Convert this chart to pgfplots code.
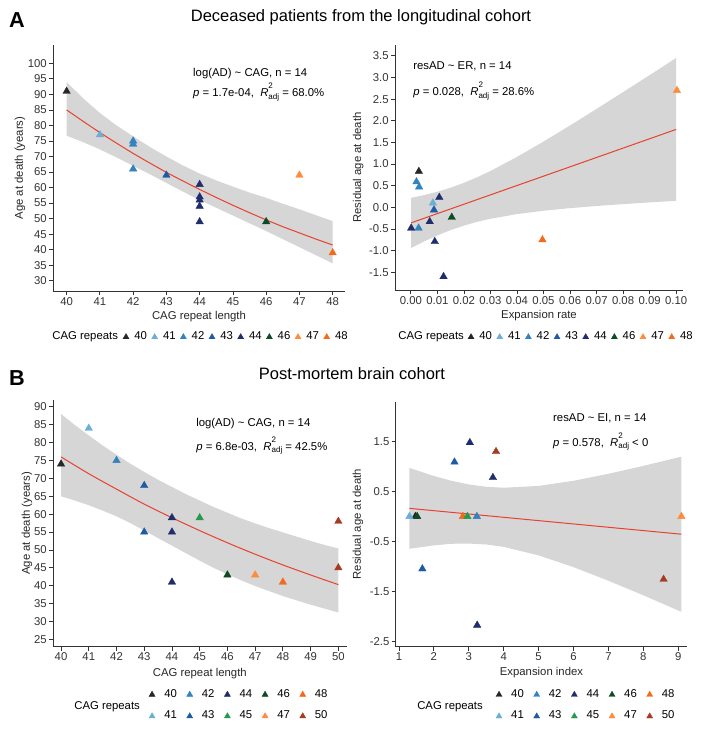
\documentclass[border=0pt]{standalone}
\usepackage{fontspec}
\setmainfont{Liberation Sans}
\usepackage{pgfplots}
\pgfplotsset{compat=1.18}

\definecolor{c40}{HTML}{262626}
\definecolor{c41}{HTML}{6BAED6}
\definecolor{c42}{HTML}{3182BD}
\definecolor{c43}{HTML}{1D5BA6}
\definecolor{c44}{HTML}{1F2D6E}
\definecolor{c45}{HTML}{259A4A}
\definecolor{c46}{HTML}{0D4A25}
\definecolor{c47}{HTML}{FD8D3C}
\definecolor{c48}{HTML}{F26A1B}
\definecolor{c50}{HTML}{A63A23}
\definecolor{bandgray}{RGB}{214,214,214}
\definecolor{fitred}{HTML}{E8412E}
\definecolor{axgray}{HTML}{333333}

\newcommand{\sm}{\fontsize{6.8}{8}\selectfont}
% R^2_adj : superscript stacked over subscript
\newcommand{\radj}{\textit{R}\raisebox{-1.7pt}{\fontsize{4.8}{4.8}\selectfont\shortstack[l]{2\\adj}}}

\pgfplotsset{
  panel/.style={
    scale only axis, clip=false,
    axis lines*=left,
    axis line style={axgray, line width=0.5pt, -},
    tick align=outside,
    major tick length=2.4pt,
    tick style={axgray, line width=0.5pt},
    tick label style={font=\sm, text=axgray, inner sep=1.2pt},
    label style={font=\sm, text=black!85},
    /pgf/number format/assume math mode=true,
    legend style={draw=none, fill=none, inner sep=0pt, outer sep=0pt, font=\sm,
      nodes={inner xsep=1pt, inner ysep=0.6pt}},
    legend image code/.code={\draw[##1, mark size=2.1pt] plot coordinates {(0pt,0pt)};},
  },
  pts/.style={only marks, mark=triangle*, mark size=2.6pt, color=#1,
    mark options={solid, fill=#1, draw=#1, line width=0.2pt}},
  fitline/.style={fitred, line width=0.6pt},
  band/.style={fill=bandgray, draw=none, forget plot},
  legA/.style={legend columns=-1, legend style={
    /tikz/every odd column/.append style={column sep=2.2pt},
    /tikz/every even column/.append style={column sep=1.8pt}}},
  legB/.style={legend columns=5, legend style={row sep=5.5pt,
    /tikz/every odd column/.append style={column sep=4.5pt},
    /tikz/every even column/.append style={column sep=4.9pt}}},
}

\begin{document}
\begin{tikzpicture}
\path[use as bounding box] (0pt,0pt) rectangle (422.4pt,-439.8pt);

\node[font=\fontsize{13}{15}\selectfont\bfseries] at (10.2pt,-12pt) {A};
\node[font=\fontsize{9.9}{12}\selectfont] at (216.6pt,-10.2pt) {Deceased patients from the longitudinal cohort};
\node[font=\fontsize{13}{15}\selectfont\bfseries] at (10.2pt,-226.8pt) {B};
\node[font=\fontsize{9.9}{12}\selectfont] at (211.2pt,-224.4pt) {Post-mortem brain cohort};

% ---------- A left ----------
\begin{axis}[panel, legA, at={(31.8pt,-174.6pt)}, anchor=south west,
  width=175.2pt, height=147.6pt,
  xmin=39.59, xmax=48.37, ymin=26.7, ymax=105.9,
  xtick={40,...,48}, ytick={30,35,...,100},
  xlabel={CAG repeat length}, ylabel={Age at death (years)},
  xlabel style={at={(axis description cs:0.5,-0.114)}, anchor=base},
  ylabel style={at={(axis description cs:-0.113,0.5)}, anchor=center},
  legend style={at={(axis description cs:0.2397,-0.187)}, anchor=west}]
\addplot[band] coordinates {
  (40,94.0) (40.5,88.7) (41,84.0) (41.5,80.0) (42,76.5) (42.5,73.1) (43,70.0) (43.5,67.1) (44,64.5)
  (44.5,62.3) (45,60.3) (45.5,58.4) (46,56.7) (46.5,54.8) (47,53.0) (47.5,51.1) (48,49.2)
  (48,35.6) (47.5,38.2) (47,40.8) (46.5,43.4) (46,46.0) (45.5,48.5) (45,51.0) (44.5,53.5) (44,56.0)
  (43.5,58.7) (43,61.5) (42.5,64.3) (42,67.0) (41.5,69.7) (41,72.3) (40.5,74.6) (40,76.7)} -- cycle;
\addplot[fitline, forget plot] coordinates {(40,85.0) (40.5,81.3) (41,77.7) (41.5,74.3) (42,71.0) (42.5,67.9) (43,64.9) (43.5,62.1) (44,59.4) (44.5,56.8) (45,54.3) (45.5,51.9) (46,49.6) (46.5,47.4) (47,45.4) (47.5,43.4) (48,41.5)};
\addplot[pts=c40] coordinates {(40,91)}; \addlegendentry{40}
\addplot[pts=c41] coordinates {(41,77)}; \addlegendentry{41}
\addplot[pts=c42] coordinates {(42,75) (42,74) (42,66)}; \addlegendentry{42}
\addplot[pts=c43] coordinates {(43,64)}; \addlegendentry{43}
\addplot[pts=c44] coordinates {(44,61) (44,57) (44,56) (44,54) (44,49)}; \addlegendentry{44}
\addplot[pts=c46] coordinates {(46,49)}; \addlegendentry{46}
\addplot[pts=c47] coordinates {(47,64)}; \addlegendentry{47}
\addplot[pts=c48] coordinates {(48,39)}; \addlegendentry{48}
\node[anchor=base west, font=\sm, inner sep=0pt] at (axis description cs:0.479,0.870) {log(AD) \textasciitilde{} CAG, n = 14};
\node[anchor=base west, font=\sm, inner sep=0pt] at (axis description cs:0.479,0.789) {\textit{p} = 1.7e-04,\ \ \radj{} = 68.0\%};
\node[anchor=west, font=\sm, inner sep=0pt] at (axis description cs:-0.003,-0.187) {CAG repeats};
\end{axis}

% ---------- A right ----------
\begin{axis}[panel, legA, at={(237pt,-174pt)}, anchor=south west,
  width=172.8pt, height=147pt,
  xmin=-0.006, xmax=0.1026, ymin=-1.91, ymax=3.75,
  xtick={0,0.01,0.02,0.03,0.04,0.05,0.06,0.07,0.08,0.09,0.1},
  ytick={-1.5,-1,-0.5,0,0.5,1,1.5,2,2.5,3,3.5},
  scaled x ticks=false,
  xticklabel style={/pgf/number format/.cd, fixed, fixed zerofill, precision=2},
  yticklabel style={/pgf/number format/.cd, fixed, fixed zerofill, precision=1},
  xlabel={Expansion rate}, ylabel={Residual age at death},
  xlabel style={at={(axis description cs:0.5,-0.118)}, anchor=base},
  ylabel style={at={(axis description cs:-0.128,0.5)}, anchor=center},
  legend style={at={(axis description cs:0.2535,-0.192)}, anchor=west}]
\addplot[band] coordinates {
  (0.0001,0.22) (0.005,0.283) (0.01,0.36) (0.015,0.454) (0.02,0.566) (0.025,0.695) (0.03,0.84) (0.04,1.164)
  (0.05,1.519) (0.06,1.891) (0.07,2.273) (0.08,2.662) (0.09,3.054) (0.1,3.45)
  (0.1,0.15) (0.09,0.114) (0.08,0.074) (0.07,0.031) (0.06,-0.019) (0.05,-0.079) (0.04,-0.156)
  (0.03,-0.264) (0.025,-0.335) (0.02,-0.422) (0.015,-0.526) (0.01,-0.648) (0.005,-0.787) (0.0001,-0.94)} -- cycle;
\addplot[fitline, forget plot] coordinates {(0.0001,-0.358) (0.1,1.80)};
\addplot[pts=c40] coordinates {(0.0030,0.83)}; \addlegendentry{40}
\addplot[pts=c41] coordinates {(0.0083,0.10)}; \addlegendentry{41}
\addplot[pts=c42] coordinates {(0.0021,0.59) (0.0031,0.47) (0.0029,-0.48)}; \addlegendentry{42}
\addplot[pts=c43] coordinates {(0.0087,-0.06)}; \addlegendentry{43}
\addplot[pts=c44] coordinates {(0.0107,0.23) (0.0071,-0.33) (0.0001,-0.48) (0.0090,-0.79) (0.0123,-1.60)}; \addlegendentry{44}
\addplot[pts=c46] coordinates {(0.0154,-0.23)}; \addlegendentry{46}
\addplot[pts=c47] coordinates {(0.1003,2.70)}; \addlegendentry{47}
\addplot[pts=c48] coordinates {(0.0496,-0.75)}; \addlegendentry{48}
\node[anchor=base west, font=\sm, inner sep=0pt] at (axis description cs:0.0625,0.902) {resAD \textasciitilde{} ER, n = 14};
\node[anchor=base west, font=\sm, inner sep=0pt] at (axis description cs:0.0625,0.792) {\textit{p} = 0.028,\ \ \radj{} = 28.6\%};
\node[anchor=west, font=\sm, inner sep=0pt] at (axis description cs:0.0104,-0.192) {CAG repeats};
\end{axis}

% ---------- B left ----------
\begin{axis}[panel, legB, at={(31.8pt,-388pt)}, anchor=south west,
  width=176.2pt, height=148pt,
  xmin=39.71, xmax=50.3, ymin=22.96, ymax=91.9,
  xtick={40,...,50}, ytick={25,30,...,90},
  xlabel={CAG repeat length}, ylabel={Age at death (years)},
  xlabel style={at={(axis description cs:0.5,-0.119)}, anchor=base},
  ylabel style={at={(axis description cs:-0.0885,0.5)}, anchor=center},
  legend style={at={(axis description cs:0.327,-0.238)}, anchor=west}]
\addplot[band] coordinates {
  (40,88.0) (40.5,84.9) (41,82.0) (41.5,79.2) (42,76.6) (42.5,74.1) (43,71.8) (43.5,69.6) (44,67.6) (44.5,65.6)
  (45,63.8) (45.5,62.0) (46,60.4) (46.5,58.8) (47,57.4) (47.5,56.1) (48,54.9) (48.5,53.7) (49,52.5) (49.5,51.4) (50,50.4)
  (50,32.5) (49.5,33.6) (49,34.7) (48.5,35.9) (48,37.1) (47.5,38.5) (47,39.9) (46.5,41.5) (46,43.2) (45.5,45.0)
  (45,47.0) (44.5,49.1) (44,51.2) (43.5,53.3) (43,55.4) (42.5,57.5) (42,59.4) (41.5,61.0) (41,62.5) (40.5,63.8) (40,65.0)} -- cycle;
\addplot[fitline, smooth, forget plot] coordinates {(40,76.0) (41,71.3) (42,67.0) (43,62.8) (44,59.0) (45,55.4) (46,52.0) (47,48.8) (48,45.8) (49,43.0) (50,40.3)};
\addplot[pts=c40] coordinates {(40,74)}; \addlegendentry{40}
\addplot[pts=c42] coordinates {(42,75)}; \addlegendentry{42}
\addplot[pts=c44] coordinates {(44,59) (44,55) (44,41)}; \addlegendentry{44}
\addplot[pts=c46] coordinates {(46,43)}; \addlegendentry{46}
\addplot[pts=c48] coordinates {(48,41)}; \addlegendentry{48}
\addplot[pts=c41] coordinates {(41,84)}; \addlegendentry{41}
\addplot[pts=c43] coordinates {(43,68) (43,55)}; \addlegendentry{43}
\addplot[pts=c45] coordinates {(45,59)}; \addlegendentry{45}
\addplot[pts=c47] coordinates {(47,43)}; \addlegendentry{47}
\addplot[pts=c50] coordinates {(50,58) (50,45)}; \addlegendentry{50}
\node[anchor=base west, font=\sm, inner sep=0pt] at (axis description cs:0.487,0.8906) {log(AD) \textasciitilde{} CAG, n = 14};
\node[anchor=base west, font=\sm, inner sep=0pt] at (axis description cs:0.487,0.797) {\textit{p} = 6.8e-03,\ \ \radj{} = 42.5\%};
\node[anchor=west, font=\sm, inner sep=0pt] at (axis description cs:0.0715,-0.244) {CAG repeats};
\end{axis}

% ---------- B right ----------
\begin{axis}[panel, legB, at={(237.4pt,-388pt)}, anchor=south west,
  width=175pt, height=147pt,
  xmin=0.905, xmax=9.26, ymin=-2.61, ymax=2.30,
  xtick={1,...,9}, ytick={-2.5,-1.5,-0.5,0.5,1.5},
  yticklabel style={/pgf/number format/.cd, fixed, fixed zerofill, precision=1},
  xlabel={Expansion index}, ylabel={Residual age at death},
  xlabel style={at={(axis description cs:0.5,-0.1196)}, anchor=base},
  ylabel style={at={(axis description cs:-0.129,0.5)}, anchor=center},
  legend style={at={(axis description cs:0.344,-0.240)}, anchor=west}]
\addplot[band] coordinates {
  (1.3,0.972) (2,0.811) (2.5,0.715) (3,0.641) (3.5,0.594) (4,0.575) (5,0.612) (6,0.715) (7,0.855) (8,1.013) (9.09,1.198)
  (9.09,-1.912) (8,-1.580) (7,-1.289) (6,-1.016) (5,-0.780) (4,-0.610) (3.5,-0.562) (3,-0.544) (2.5,-0.548) (2,-0.580) (1.3,-0.648)} -- cycle;
\addplot[fitline, forget plot] coordinates {(1.3,0.162) (9.09,-0.356)};
\addplot[pts=c40] coordinates {(1.47,0)}; \addlegendentry{40}
\addplot[pts=c42] coordinates {(3.23,0)}; \addlegendentry{42}
\addplot[pts=c44] coordinates {(3.03,1.48) (3.69,0.78) (3.24,-2.18)}; \addlegendentry{44}
\addplot[pts=c46] coordinates {(1.52,0)}; \addlegendentry{46}
\addplot[pts=c48] coordinates {(2.83,0)}; \addlegendentry{48}
\addplot[pts=c41] coordinates {(1.30,0)}; \addlegendentry{41}
\addplot[pts=c43] coordinates {(1.67,-1.05) (2.59,1.09)}; \addlegendentry{43}
\addplot[pts=c45] coordinates {(2.96,0)}; \addlegendentry{45}
\addplot[pts=c47] coordinates {(9.09,0)}; \addlegendentry{47}
\addplot[pts=c50] coordinates {(3.78,1.30) (8.58,-1.26)}; \addlegendentry{50}
\node[anchor=base west, font=\sm, inner sep=0pt] at (axis description cs:0.539,0.921) {resAD \textasciitilde{} EI, n = 14};
\node[anchor=base west, font=\sm, inner sep=0pt] at (axis description cs:0.539,0.819) {\textit{p} = 0.578,\ \ \radj{} < 0};
\node[anchor=west, font=\sm, inner sep=0pt] at (axis description cs:0.073,-0.244) {CAG repeats};
\end{axis}
\end{tikzpicture}
\end{document}
